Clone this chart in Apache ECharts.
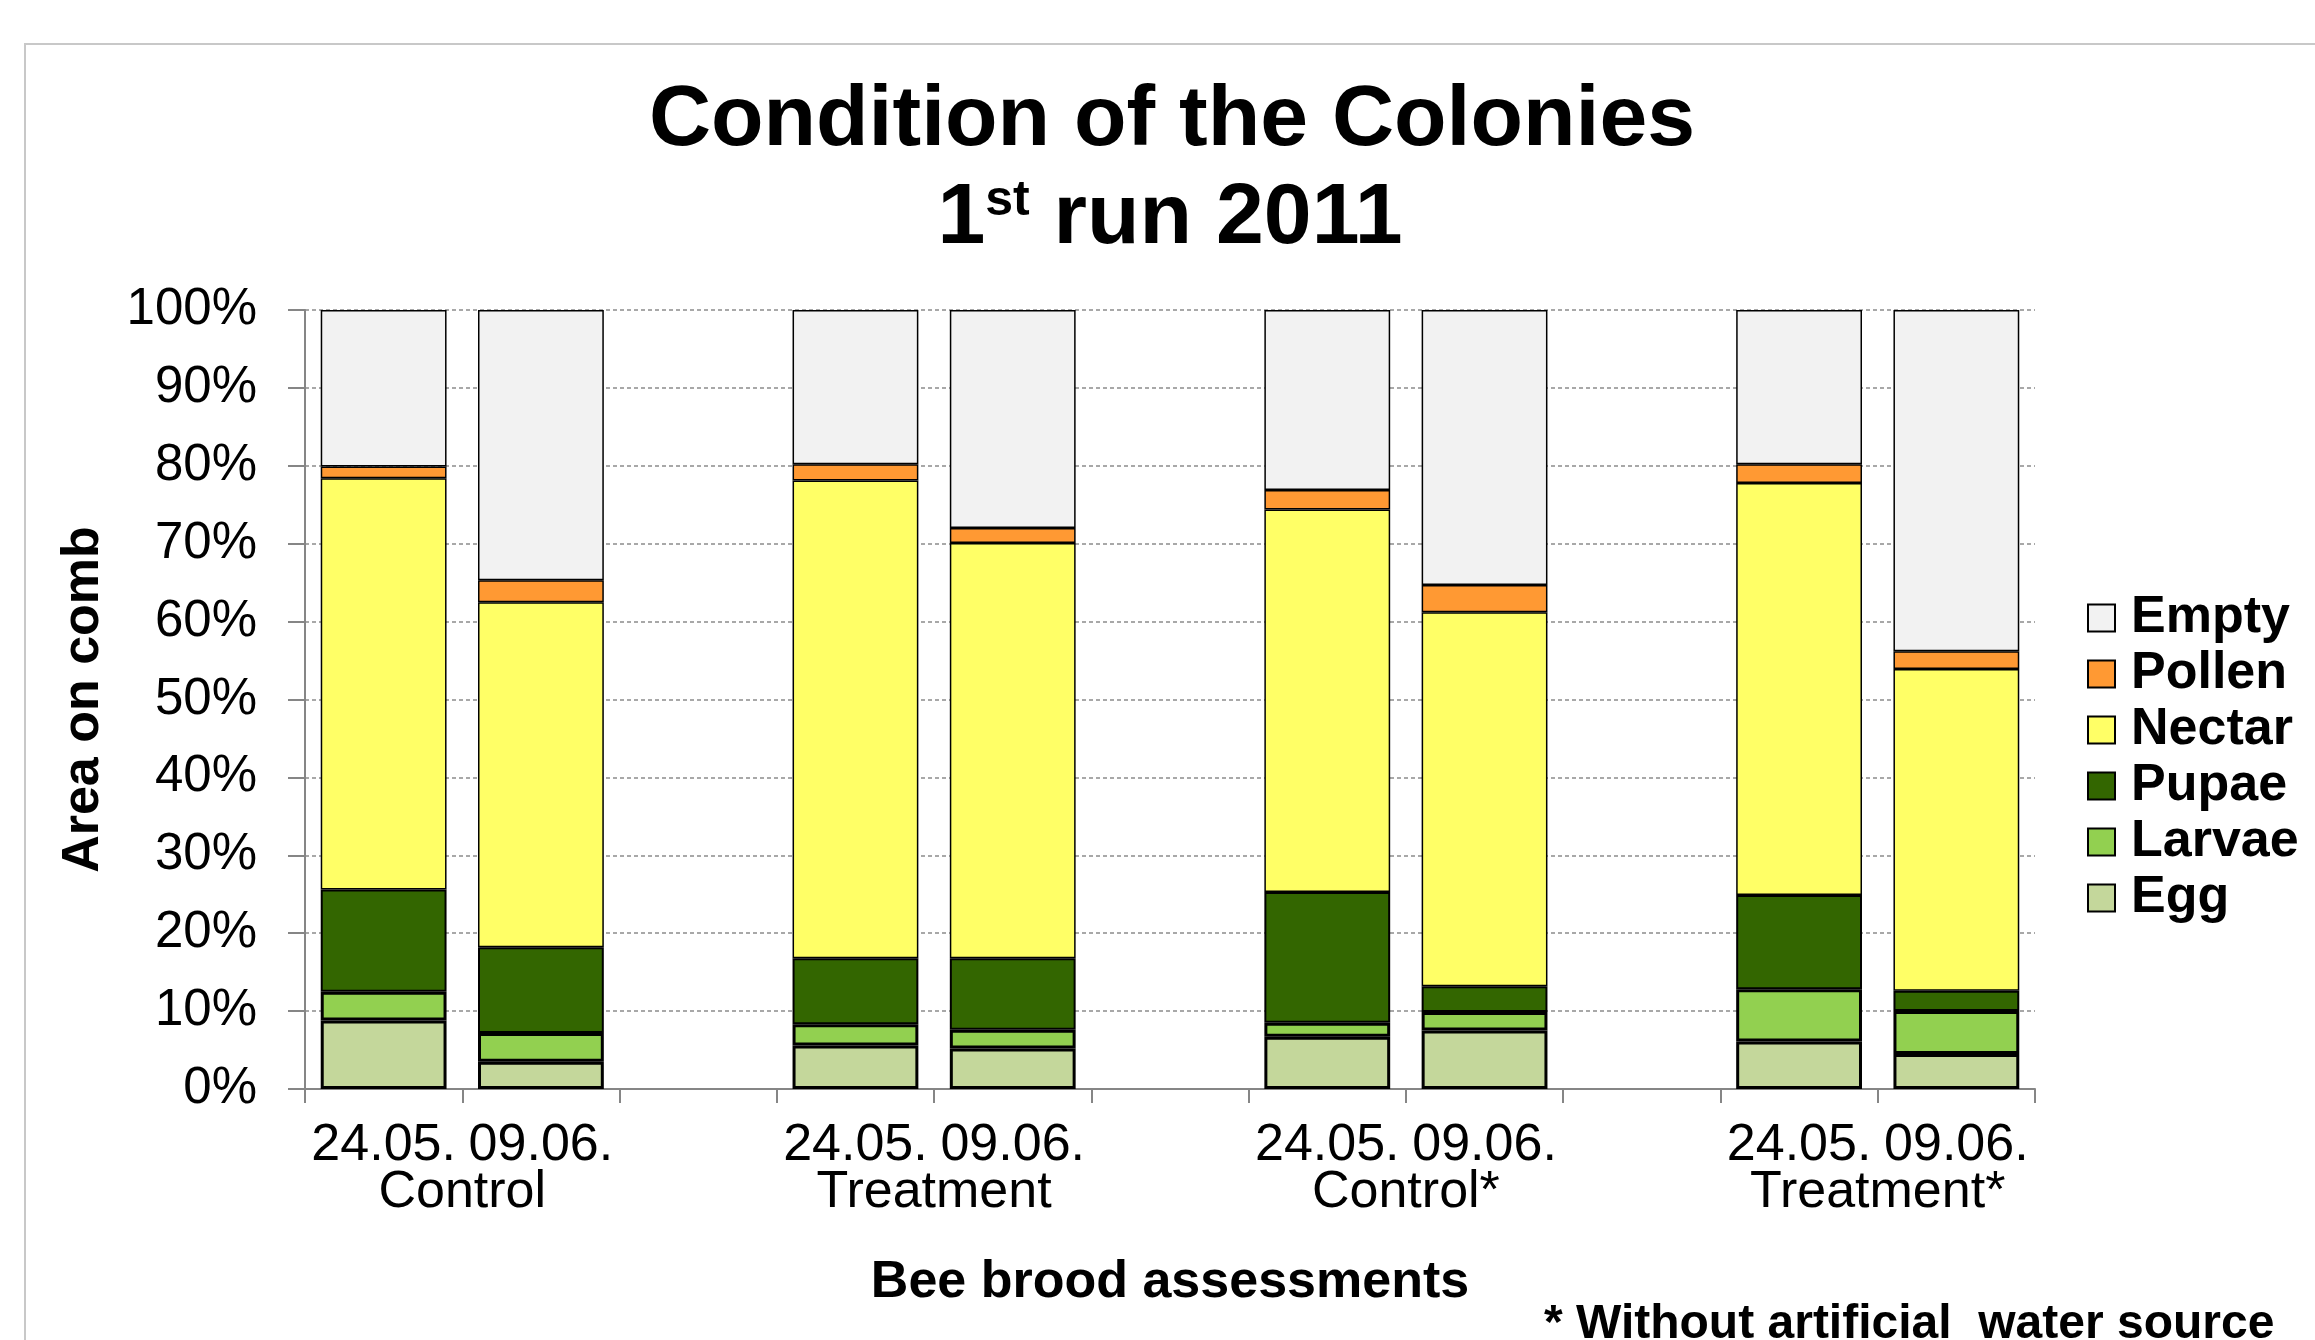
<!DOCTYPE html>
<html>
<head>
<meta charset="utf-8">
<title>Condition of the Colonies</title>
<script src="https://cdn.jsdelivr.net/npm/echarts@6/dist/echarts.min.js"></script>
<style>
    html, body { margin: 0; padding: 0; background: #fff; }
    #chart { width: 2315px; height: 1340px; }
</style>
</head>
<body>
<div id="chart"></div>
<script>
    // 11 slots: two dates per group, empty slot between groups
    var categories = ['24.05.', '09.06.', '', '24.05.', '09.06.', '', '24.05.', '09.06.', '', '24.05.', '09.06.'];
    var groups = ['Control', 'Treatment', 'Control*', 'Treatment*'];
    var yTicks = [0, 10, 20, 30, 40, 50, 60, 70, 80, 90, 100];

    // share of comb area in %, '-' = gap slot
    var egg    = [8.8, 3.5, '-', 5.6, 5.2, '-', 6.7, 7.5, '-', 6.1, 4.5];
    var larvae = [3.7, 3.7, '-', 2.7, 2.4, '-', 1.8, 2.4, '-', 6.7, 5.5];
    var pupae  = [13.1, 11.0, '-', 8.5, 9.2, '-', 16.8, 3.3, '-', 12.1, 2.6];
    var nectar = [52.8, 44.3, '-', 61.3, 53.3, '-', 49.1, 48.0, '-', 52.9, 41.3];
    var pollen = [1.5, 2.8, '-', 2.1, 1.9, '-', 2.5, 3.5, '-', 2.4, 2.3];
    var empty  = [20.1, 34.7, '-', 19.8, 28.0, '-', 23.1, 35.3, '-', 19.8, 43.8];

    var FONT = "'Liberation Sans', Arial, sans-serif";

    function barSeries(name, data, color, bw) {
        return {
            name: name,
            type: 'bar',
            stack: 'comb',
            barWidth: '80%',
            data: data,
            itemStyle: {
                color: color,
                borderColor: '#000',
                borderWidth: bw
            }
        };
    }

    var myChart = echarts.init(document.getElementById('chart'));
    var options = {
        backgroundColor: '#fff',
        animation: false,
        textStyle: { fontFamily: FONT, color: '#000' },
        title: [
            {
                text: 'Condition of the Colonies',
                left: 1172,
                top: 78,
                textAlign: 'center',
                padding: 0,
                textStyle: { fontFamily: FONT, fontSize: 86, fontWeight: 'bold', color: '#000', lineHeight: 86 }
            },
            {
                text: '{n|1}{s|st}{n| run 2011}',
                left: 1170,
                top: 176,
                textAlign: 'center',
                padding: 0,
                textStyle: {
                    rich: {
                        n: { fontFamily: FONT, fontSize: 86, fontWeight: 'bold', color: '#000', lineHeight: 86 },
                        s: { fontFamily: FONT, fontSize: 50, fontWeight: 'bold', color: '#000', lineHeight: 68, verticalAlign: 'top' }
                    }
                }
            },
            {
                text: '* Without artificial  water source',
                left: 1544,
                top: 1300,
                padding: 0,
                textStyle: { fontFamily: FONT, fontSize: 48, fontWeight: 'bold', color: '#000', lineHeight: 50 }
            }
        ],
        legend: {
            orient: 'vertical',
            left: 2082,
            top: 585,
            itemWidth: 27,
            itemHeight: 27,
            itemGap: 0,
            icon: 'rect',
            data: ['Empty', 'Pollen', 'Nectar', 'Pupae', 'Larvae', 'Egg'],
            textStyle: { fontFamily: FONT, fontSize: 52, fontWeight: 'bold', color: '#000', lineHeight: 56, padding: [0, 0, 0, 11] }
        },
        grid: {
            left: 305,
            right: 280,
            top: 310,
            bottom: 251,
            containLabel: false
        },
        xAxis: [
            {
                type: 'category',
                data: categories,
                name: 'Bee brood assessments',
                nameLocation: 'middle',
                nameGap: 168,
                nameTextStyle: { fontFamily: FONT, fontSize: 52, fontWeight: 'bold', color: '#000', lineHeight: 52 },
                axisLine: { lineStyle: { color: '#868686', width: 2 } },
                axisTick: { show: true, interval: 0, length: 14, lineStyle: { color: '#868686', width: 2 } },
                axisLabel: { interval: 0, margin: 31, fontSize: 52, color: '#000', fontFamily: FONT, lineHeight: 52 },
                splitLine: { show: false }
            },
            {
                type: 'value',
                position: 'bottom',
                min: 0,
                max: 11,
                interval: 1,
                axisLine: { show: false },
                axisTick: { show: false },
                splitLine: { show: false },
                axisLabel: {
                    margin: 78,
                    fontSize: 52,
                    color: '#000',
                    fontFamily: FONT,
                    lineHeight: 52,
                    formatter: function (v) {
                        return (v % 3 === 1) ? groups[(v - 1) / 3] : '';
                    }
                }
            }
        ],
        yAxis: {
            type: 'value',
            min: yTicks[0],
            max: yTicks[yTicks.length - 1],
            interval: 10,
            name: 'Area on comb',
            nameLocation: 'middle',
            nameGap: 195,
            nameRotate: 90,
            nameTextStyle: { fontFamily: FONT, fontSize: 52, fontWeight: 'bold', color: '#000' },
            axisLine: { show: true, lineStyle: { color: '#868686', width: 2 } },
            axisTick: { show: true, length: 17, lineStyle: { color: '#868686', width: 2 } },
            axisLabel: {
                margin: 48,
                fontSize: 51,
                color: '#000',
                fontFamily: FONT,
                formatter: '{value}%'
            },
            splitLine: { show: true, lineStyle: { color: '#8c8c8c', width: 1.5, type: [4, 3] } }
        },
        graphic: [
            {
                type: 'rect',
                shape: { x: 25, y: 44, width: 2400, height: 1400 },
                style: { fill: 'none', stroke: '#c8c8c8', lineWidth: 2 },
                silent: true,
                z: -10
            }
        ],
        series: [
            barSeries('Egg', egg, '#C4D79B', 3),
            barSeries('Larvae', larvae, '#92D050', 3),
            barSeries('Pupae', pupae, '#336600', 2),
            barSeries('Nectar', nectar, '#FFFF66', 1.5),
            barSeries('Pollen', pollen, '#FF9933', 1.5),
            barSeries('Empty', empty, '#F2F2F2', 1.5)
        ]
    };
    myChart.setOption(options);
    window.addEventListener('resize', myChart.resize);
</script>
</body>
</html>
